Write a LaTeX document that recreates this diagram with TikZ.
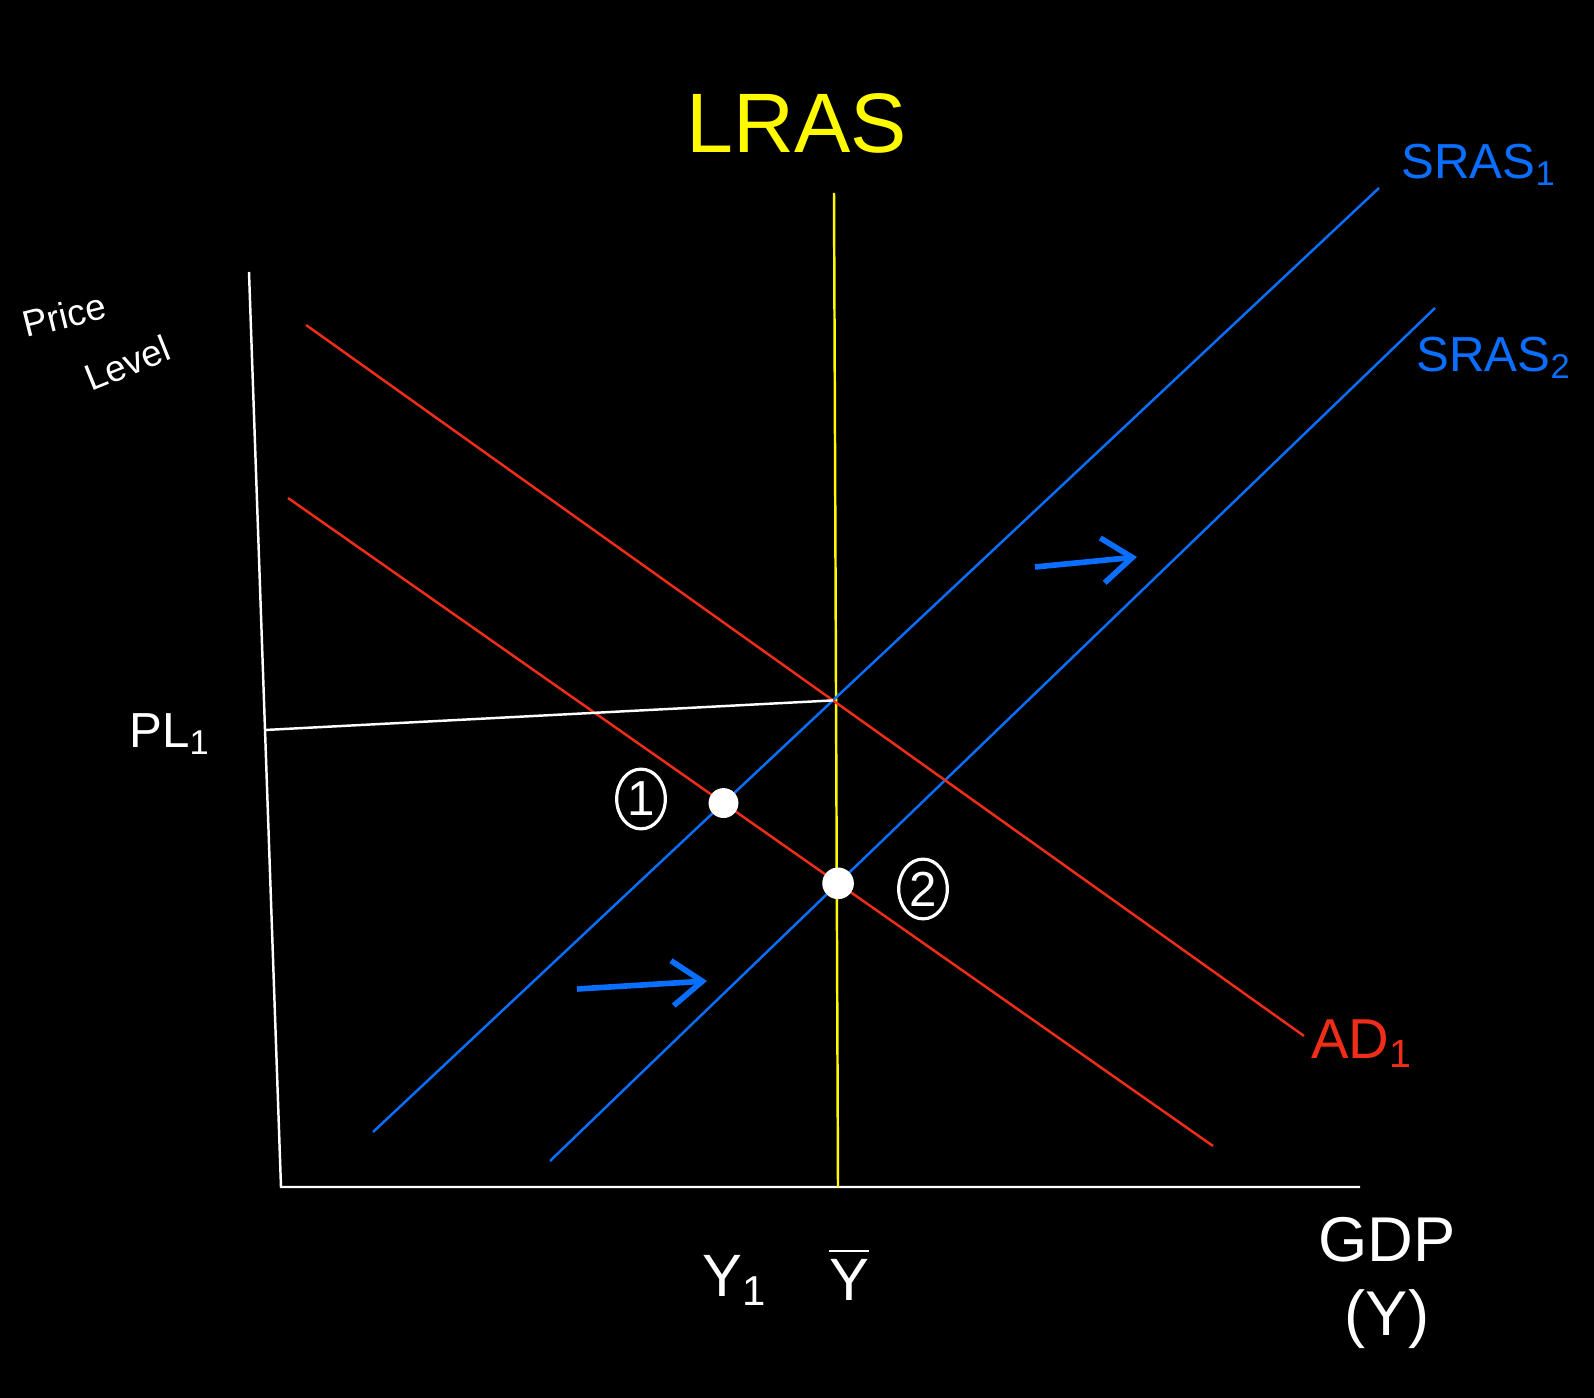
\documentclass[tikz,border=0pt]{standalone}
\usepackage{amsmath}
\usepackage{fontspec}
\setmainfont{Liberation Sans}
\usepackage{tikz}
\usetikzlibrary{shapes.geometric, arrows.meta, positioning, calc}

\definecolor{lrasyellow}{RGB}{255,250,0}
\definecolor{srasblue}{RGB}{10,110,255}
\definecolor{adred}{RGB}{240,45,25}

\begin{document}
\begin{tikzpicture}[
    x=0.01cm, y=-0.01cm,
    axis/.style={draw=white, line width=0.7pt},
    curve/.style={line width=0.7pt},
    lbl/.style={text=white, font=\fontsize{14}{16}\selectfont},
    shiftarrow/.style={draw=srasblue, line width=1.6pt, -{Straight Barb[length=3mm, width=4.5mm]}},
    dot/.style={circle, fill=white, minimum size=8.5pt, inner sep=0pt},
    ring/.style={ellipse, draw=white, line width=0.9pt, minimum width=13pt, minimum height=17pt, inner sep=1pt, text=white, font=\fontsize{14}{15}\selectfont},
]
\useasboundingbox (0,0) rectangle (1594,1398);
\fill[black] (0,0) rectangle (1594,1398);

% axes
\coordinate (ytop) at (249,272);
\coordinate (origin) at (281,1187);
\coordinate (xend) at (1360,1187);
\draw[axis] (ytop) -- (origin) -- (xend);

% curves
\coordinate (lras top) at (834,193);
\coordinate (lras bot) at (838,1187);
\coordinate (sras1 a) at (373,1132);
\coordinate (sras1 b) at (1379,188);
\coordinate (sras2 a) at (550,1161);
\coordinate (sras2 b) at (1435,308);
\coordinate (ad1 a) at (306,325);
\coordinate (ad1 b) at (1304,1036);
\coordinate (ad2 a) at (288,498);
\coordinate (ad2 b) at (1213,1146);
\draw[curve, draw=lrasyellow] (lras top) -- (lras bot);
\draw[curve, draw=srasblue] (sras1 a) -- (sras1 b);
\draw[curve, draw=srasblue] (sras2 a) -- (sras2 b);
\draw[curve, draw=adred] (ad1 a) -- (ad1 b);
\draw[curve, draw=adred] (ad2 a) -- (ad2 b);

% price level line
\coordinate (pl start) at (265,730);
\coordinate (eq0) at (intersection of sras1 a--sras1 b and ad1 a--ad1 b);
\draw[axis] (pl start) -- (eq0);

% equilibrium points
\node[dot] (pt1) at (intersection of sras1 a--sras1 b and ad2 a--ad2 b) {};
\node[dot, minimum size=9pt] (pt2) at (intersection of sras2 a--sras2 b and ad2 a--ad2 b) {};
\node[ring] (tag1) at (641,799) {1};
\node[ring] (tag2) at (923,889) {2};

% shift arrows
\coordinate (up from) at (1035,567);
\coordinate (up to) at (1137,557);
\coordinate (low from) at (577,989);
\coordinate (low to) at (707,981);
\draw[shiftarrow] (up from) -- (up to);
\draw[shiftarrow] (low from) -- (low to);

% labels
\node[text=lrasyellow, font=\fontsize{24}{27}\selectfont] (lras) at (797,123) {LRAS};
\node[text=srasblue, font=\fontsize{14}{16}\selectfont] (sras1) at (1479,165) {SRAS\textsubscript{1}};
\node[text=srasblue, font=\fontsize{14}{16}\selectfont] (sras2) at (1494,358) {SRAS\textsubscript{2}};
\node[text=adred, font=\fontsize{16}{18}\selectfont] (ad1) at (1362,1044) {AD\textsubscript{1}};
\node[lbl, rotate=14, inner sep=0pt, font=\fontsize{10.5}{12}\selectfont] (price) at (64,315) {Price};
\node[lbl, rotate=22, inner sep=0pt, font=\fontsize{10.5}{12}\selectfont] (level) at (127,363) {Level};
\node[lbl] (pl) at (170,734) {PL\textsubscript{1}};
\node[lbl, font=\fontsize{17}{19}\selectfont] (y1) at (735,1280) {Y\textsubscript{1}};
\node[lbl, font=\fontsize{17}{19}\selectfont] (ybar) at (849,1274) {$\overline{\text{Y}}$};
\node[lbl, align=center, font=\fontsize{18}{21}\selectfont] (gdp) at (1387,1283) {GDP\\(Y)};
\end{tikzpicture}
\end{document}
